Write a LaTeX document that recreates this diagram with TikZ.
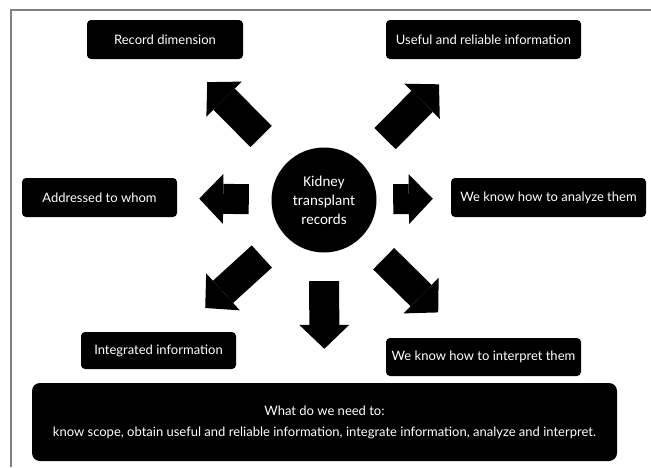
\documentclass[tikz,border=0pt]{standalone}
\usepackage{fontspec}
\setmainfont{Carlito}
\newfontfamily\boxfont{Lato}
\usetikzlibrary{arrows.meta, positioning, shapes.geometric}

\begin{document}
\begin{tikzpicture}[
    x=1pt, y=-1pt,
    box/.style={rectangle, fill=black, text=white, rounded corners=4pt, minimum height=39pt, inner sep=2pt, align=center, font=\boxfont\fontsize{13}{15}\selectfont},
    hub/.style={circle, fill=black, text=white, minimum size=105pt, inner sep=0pt, align=center, font=\fontsize{15}{19}\selectfont},
    bigarrow/.style={line width=30pt, -{Triangle[length=24pt, width=50pt, line width=0pt]}}
]
\useasboundingbox (0,0) rectangle (651,467);

% Frame
\draw[gray, line width=1.5pt] (11,467) -- (11,10) -- (651,10);

% Centre
\node[hub] (kid) at (324,200) {Kidney\\transplant\\records};

% Top row
\node[box, minimum width=156pt] (rec) at (165,39.5) {Record dimension};
\node[box, minimum width=195pt] (use) at (483.5,39.5) {Useful and reliable information};

% Middle row
\node[box, minimum width=155pt] (add) at (99.5,197.5) {Addressed to whom};
\node[box, minimum width=195pt] (ana) at (548.5,197.5) {We know how to analyze them};

% Lower row
\node[box, minimum width=155pt, minimum height=37pt] (int) at (158.5,350.5) {Integrated information};
\node[box, minimum width=195pt, minimum height=38pt] (itp) at (483.5,357) {We know how to interpret them};

% Summary
\node[box, minimum width=585pt, minimum height=78pt, rounded corners=8pt, font=\boxfont\fontsize{13}{21}\selectfont] (need) at (324.5,422)
    {What do we need to:\\know scope, obtain useful and reliable information, integrate information, analyze and interpret.};

% Arrows
\draw[bigarrow, shorten <=36.7pt, shorten >=32.3pt] (kid) -- (rec);
\draw[bigarrow, shorten <=33.9pt, shorten >=35.4pt] (kid) -- (use);
\draw[bigarrow, shorten <=22.5pt, shorten >=22pt] (kid) -- (add);
\draw[bigarrow, shorten <=16.5pt, shorten >=18pt] (kid) -- (ana);
\draw[bigarrow, shorten <=31.3pt, shorten >=35.4pt] (kid) -- (int);
\draw[bigarrow, shorten <=31pt, shorten >=36.2pt] (kid) -- (itp);
\draw[bigarrow, shorten <=28.5pt, shorten >=34pt] (kid) -- (need);

\end{tikzpicture}
\end{document}
